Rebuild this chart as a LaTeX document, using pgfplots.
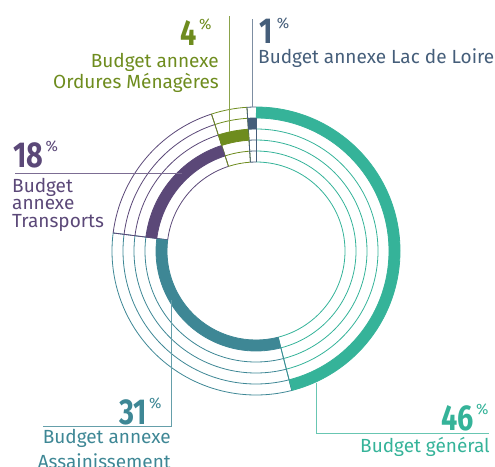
\documentclass[border=0pt]{standalone}
\usepackage{pgfplots}
\pgfplotsset{compat=1.18}
\usepackage{pgfplotstable}
\usepackage{fontspec}
\setmainfont{Fira Sans}
\newfontfamily\numfont{Fira Sans}[FakeStretch=0.8]

\definecolor{gen}{RGB}{53,179,153}
\definecolor{ass}{RGB}{62,135,149}
\definecolor{tra}{RGB}{91,72,120}
\definecolor{ord}{RGB}{110,140,30}
\definecolor{lac}{RGB}{69,94,122}

% share of each budget, and its ring (1 = outer)
\pgfplotstableread{
name pct ring
gen  46  1
ass  31  5
tra  18  4
ord  4   3
lac  1   2
}\budgets

\newcommand{\getrow}[3]{%
  \pgfplotstablegetelem{#1}{pct}\of\budgets \global\let#2\pgfplotsretval
  \pgfplotstablegetelem{#1}{ring}\of\budgets \global\let#3\pgfplotsretval}

\def\cx{256}\def\cy{251}

% thin arcs on every circle + radial edges of a slice
\newcommand{\thin}[3]{%
  \pgfplotsinvokeforeach{89,100,111,122,133,144}{%
    \draw[#3, line width=0.8pt] (axis cs:\cx,\cy) ++(#1:##1pt) arc[start angle=#1, end angle=#2, radius=##1pt];
  }
  \draw[#3, line width=0.8pt] (axis cs:\cx,\cy) ++(#1:89pt) -- ++(#1:55pt);
  \draw[#3, line width=0.8pt] (axis cs:\cx,\cy) ++(#2:89pt) -- ++(#2:55pt);
}
% the filled band of a slice on its own ring
\newcommand{\band}[4]{%
  \draw[#4, line width=11pt] (axis cs:\cx,\cy) ++(#1:{(138.5-11*(#3-1))*1pt})
    arc[start angle=#1, end angle=#2, radius={(138.5-11*(#3-1))*1pt}];
}

\tikzset{
  big/.style={inner sep=0, font=\numfont\bfseries\fontsize{36}{36}\selectfont},
  pc/.style={inner sep=0, font=\fontsize{15}{15}\selectfont},
  lab/.style={inner sep=0, font=\fontsize{19}{19}\selectfont},
}

\begin{document}
\begin{tikzpicture}
\getrow{0}\pGen\rGen
\getrow{1}\pAss\rAss
\getrow{2}\pTra\rTra
\getrow{3}\pOrd\rOrd
\getrow{4}\pLac\rLac
\pgfmathsetmacro\aGen{90}
\pgfmathsetmacro\aAss{\aGen-3.6*\pGen}
\pgfmathsetmacro\aTra{\aAss-3.6*\pAss}
\pgfmathsetmacro\aOrd{\aTra-3.6*\pTra}
\pgfmathsetmacro\aLac{\aOrd-3.6*\pOrd}
\pgfmathsetmacro\aEnd{\aLac-3.6*\pLac}

\begin{axis}[
    x=1pt, y=1pt,
    xmin=0, xmax=495, ymin=0, ymax=466,
    y dir=reverse,
    hide axis, clip=false,
]
\coordinate (BL) at (axis cs:0,466);
\coordinate (TR) at (axis cs:495,0);

\thin{\aGen}{\aAss}{gen}
\thin{\aAss}{\aTra}{ass}
\thin{\aTra}{\aOrd}{tra}
\thin{\aOrd}{\aLac}{ord}
\thin{\aLac}{\aEnd}{lac}

\band{\aGen}{\aAss}{\rGen}{gen}
\band{\aAss}{\aTra}{\rAss}{ass}
\band{\aTra}{\aOrd}{\rTra}{tra}
\band{\aOrd}{\aLac}{\rOrd}{ord}
\band{\aLac}{\aEnd}{\rLac}{lac}

% leader lines
\addplot[gen!75!white, line width=0.8pt] coordinates {(316,383) (316,433) (489,433)};
\addplot[ass!80!white, line width=0.8pt] coordinates {(171,300) (171,426) (43,426)};
\addplot[tra!80!white, line width=0.8pt] coordinates {(182,173) (15,173)};
\addplot[ord!80!white, line width=0.8pt] coordinates {(229,132) (229,16)};
\addplot[lac!70!white, line width=0.8pt] coordinates {(252,107) (252,19)};

% labels
\node[big, gen, anchor=base east] (n1) at (axis cs:474,430) {46};
\node[pc, gen, anchor=north west] at ([xshift=2pt,yshift=1pt]n1.north east) {\%};
\node[lab, gen, anchor=base east] at (axis cs:490,452) {Budget général};

\node[big, ass, anchor=base east] (n2) at (axis cs:147,424) {31};
\node[pc, ass, anchor=north west] at ([xshift=2pt,yshift=1pt]n2.north east) {\%};
\node[lab, ass, anchor=base east] at (axis cs:171,443) {Budget annexe};
\node[lab, ass, anchor=base east] at (axis cs:171,468) {Assainissement};

\node[big, tra, anchor=base west] (n3) at (axis cs:13,167) {18};
\node[pc, tra, anchor=north west] at ([xshift=2pt,yshift=1pt]n3.north east) {\%};
\node[lab, tra, anchor=base west] at (axis cs:12,192) {Budget};
\node[lab, tra, anchor=base west] at (axis cs:12,209) {annexe};
\node[lab, tra, anchor=base west] at (axis cs:12,227) {Transports};

\node[big, ord, anchor=base east] (n4) at (axis cs:197,45) {4};
\node[pc, ord, anchor=north west] at ([xshift=2pt,yshift=1pt]n4.north east) {\%};
\node[lab, ord, anchor=base east] at (axis cs:219,67) {Budget annexe};
\node[lab, ord, anchor=base east] at (axis cs:219,88) {Ordures Ménagères};

\node[big, lac, anchor=base west] (n5) at (axis cs:259,43) {1};
\node[pc, lac, anchor=north west] at ([xshift=4pt,yshift=1pt]n5.north east) {\%};
\node[lab, lac, anchor=base west] at (axis cs:258,63) {Budget annexe Lac de Loire};
\end{axis}
\pgfresetboundingbox
\path[use as bounding box] (BL) rectangle (TR);
\end{tikzpicture}
\end{document}
